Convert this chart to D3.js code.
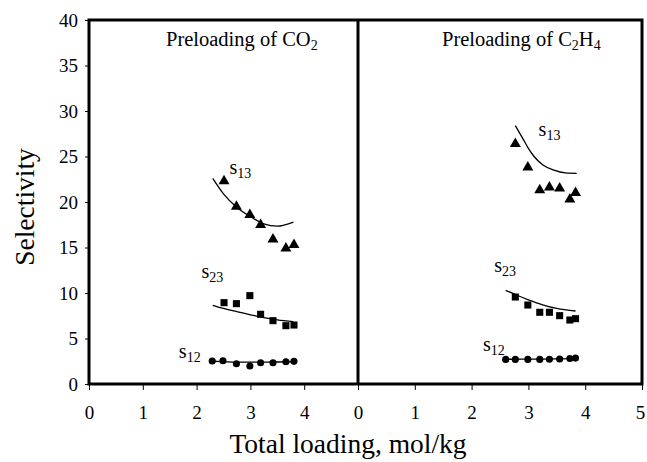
<!DOCTYPE html>
<html>
<head>
<meta charset="utf-8">
<script src="https://cdn.jsdelivr.net/npm/d3@7"></script>
<style>
  html, body { margin: 0; padding: 0; background: #fff; }
  svg { display: block; font-family: "Liberation Serif", "Times New Roman", serif; }
</style>
</head>
<body>
<svg id="chart" width="647" height="462"></svg>
<script>
// ---------- DATA ----------
const panels = ["Preloading of CO2", "Preloading of C2H4"];
const yTicks = [0, 5, 10, 15, 20, 25, 30, 35, 40];
const xTicksLeft = [0, 1, 2, 3, 4];
const xTicksRight = [0, 1, 2, 3, 4, 5];

// Left panel: CO2 preloading (measured)
const co2_x12 = [2.29, 2.49, 2.74, 2.99, 3.19, 3.42, 3.66, 3.81];
const co2_s12 = [2.53, 2.56, 2.23, 1.98, 2.34, 2.34, 2.45, 2.49];
const co2_x = [2.51, 2.74, 2.99, 3.19, 3.42, 3.66, 3.81];
const co2_s23 = [8.94, 8.83, 9.71, 7.66, 6.96, 6.41, 6.48];
const co2_s13 = [22.3, 19.5, 18.6, 17.5, 15.9, 14.9, 15.3];
// Left panel: model curves
const co2_fitX = [2.3, 2.5, 2.75, 3.0, 3.25, 3.5, 3.8];
const co2_fit12 = [2.5, 2.45, 2.4, 2.4, 2.4, 2.42, 2.45];
const co2_fit23 = [8.65, 8.3, 7.95, 7.6, 7.3, 7.05, 6.85];
const co2_fit13 = [22.6, 20.9, 19.4, 18.4, 17.6, 17.35, 17.8];

// Right panel: C2H4 preloading (measured)
const c2h4_x12 = [2.60, 2.77, 2.99, 3.20, 3.37, 3.55, 3.73, 3.83];
const c2h4_s12 = [2.7, 2.7, 2.7, 2.7, 2.72, 2.75, 2.8, 2.85];
const c2h4_x = [2.77, 2.99, 3.20, 3.37, 3.55, 3.73, 3.83];
const c2h4_s23 = [9.56, 8.68, 7.88, 7.88, 7.51, 7.03, 7.18];
const c2h4_s13 = [26.4, 23.8, 21.3, 21.6, 21.5, 20.3, 21.0];
// Right panel: model curves
const c2h4_fitX = [2.6, 2.8, 3.0, 3.25, 3.5, 3.83];
const c2h4_fit12 = [2.72, 2.72, 2.73, 2.74, 2.76, 2.8];
const c2h4_fit23 = [10.3, 9.75, 9.25, 8.7, 8.3, 8.02];
const c2h4_fit13X = [2.77, 2.9, 3.0, 3.1, 3.25, 3.45, 3.65, 3.85];
const c2h4_fit13 = [28.4, 27.0, 25.9, 25.0, 24.1, 23.5, 23.2, 23.15];

// ---------- LAYOUT ----------
const svg = d3.select("#chart");
const T = 20, B = 384, L = 89, M = 358, R = 642;
const y = d3.scaleLinear().domain([0, 40]).range([B, T]);
const xL = d3.scaleLinear().domain([0, 5]).range([L, M]);
const xR = d3.scaleLinear().domain([0, 5]).range([M, R]);

const zip = (a, b) => a.map((v, i) => [v, b[i]]);
const FONT = "Liberation Serif, Times New Roman, serif";
const fmt = d3.format("d");

// y axis ticks + labels
const yAxis = d3.axisLeft(y).tickValues(yTicks).tickFormat(fmt).tickSize(4).tickPadding(7);
const gy = svg.append("g").attr("transform", `translate(${L},0)`).call(yAxis);
gy.select(".domain").remove();
gy.selectAll("line").attr("stroke", "#000");
gy.selectAll("text").attr("font-size", 19).attr("fill", "#000").attr("font-family", FONT);

// x axes
function xAxis(scale, ticks) {
  const ax = d3.axisBottom(scale).tickValues(ticks).tickFormat(fmt).tickSize(6).tickPadding(16);
  const g = svg.append("g").attr("transform", `translate(0,${B})`).call(ax);
  g.select(".domain").remove();
  g.selectAll("line").attr("stroke", "#000");
  g.selectAll("text").attr("font-size", 19).attr("fill", "#000").attr("font-family", FONT);
  return g;
}
xAxis(xL, xTicksLeft);
const gxR = xAxis(xR, xTicksRight);
gxR.selectAll("text").filter(d => d === 5).attr("dx", -2);

// frame
svg.append("rect").attr("x", L).attr("y", T)
  .attr("width", R - L).attr("height", B - T)
  .attr("fill", "none").attr("stroke", "#000").attr("stroke-width", 3);
svg.append("line").attr("x1", M).attr("x2", M).attr("y1", T).attr("y2", B)
  .attr("stroke", "#000").attr("stroke-width", 3);

// axis titles
svg.append("text").attr("x", 348).attr("y", 453).attr("text-anchor", "middle")
  .attr("font-size", 27.5).text("Total loading, mol/kg");
svg.append("text").attr("transform", "translate(34,207) rotate(-90)")
  .attr("text-anchor", "middle").attr("font-size", 27.5).text("Selectivity");

// panel titles with subscripts
function title(x0, parts) {
  const t = svg.append("text").attr("x", x0).attr("y", 46).attr("font-size", 20.5);
  parts.forEach(p => {
    const s = t.append("tspan").text(p[0]);
    if (p[1]) s.attr("font-size", 14).attr("dy", 4);
    else if (p[2]) s.attr("dy", -4);
  });
}
title(166, [["Preloading of CO"], ["2", true]]);
title(442, [["Preloading of C"], ["2", true], ["H", false, true], ["4", true]]);

// curves
const line = (sx) => d3.line().x(d => sx(d[0])).y(d => y(d[1])).curve(d3.curveMonotoneX);
function curve(sx, xs, ys) {
  svg.append("path").datum(zip(xs, ys)).attr("d", line(sx))
    .attr("fill", "none").attr("stroke", "#000").attr("stroke-width", 1.3);
}
curve(xL, co2_fitX, co2_fit12);
curve(xL, co2_fitX, co2_fit23);
curve(xL, co2_fitX, co2_fit13);
curve(xR, c2h4_fitX, c2h4_fit12);
curve(xR, c2h4_fitX, c2h4_fit23);
curve(xR, c2h4_fit13X, c2h4_fit13);

// markers
const sym = {
  circle: d3.symbol().type(d3.symbolCircle).size(40),
  square: d3.symbol().type(d3.symbolSquare).size(50),
  tri: d3.symbol().type(d3.symbolTriangle).size(52)
};
function points(sx, xs, ys, kind) {
  svg.append("g").selectAll("path").data(zip(xs, ys)).join("path")
    .attr("transform", d => `translate(${sx(d[0])},${y(d[1])})`)
    .attr("d", sym[kind]).attr("fill", "#000");
}
points(xL, co2_x12, co2_s12, "circle");
points(xL, co2_x, co2_s23, "square");
points(xL, co2_x, co2_s13, "tri");
points(xR, c2h4_x12, c2h4_s12, "circle");
points(xR, c2h4_x, c2h4_s23, "square");
points(xR, c2h4_x, c2h4_s13, "tri");

// series labels
function label(sx, xv, yv, sub) {
  const t = svg.append("text").attr("x", sx(xv)).attr("y", y(yv)).attr("font-size", 20);
  t.append("tspan").text("s");
  t.append("tspan").attr("font-size", 14).attr("dy", 4).text(sub);
}
label(xL, 2.61, 23.1, "13");
label(xL, 2.09, 11.6, "23");
label(xL, 1.67, 2.85, "12");
label(xR, 3.18, 27.3, "13");
label(xR, 2.4, 12.3, "23");
label(xR, 2.2, 3.6, "12");
</script>
</body>
</html>
